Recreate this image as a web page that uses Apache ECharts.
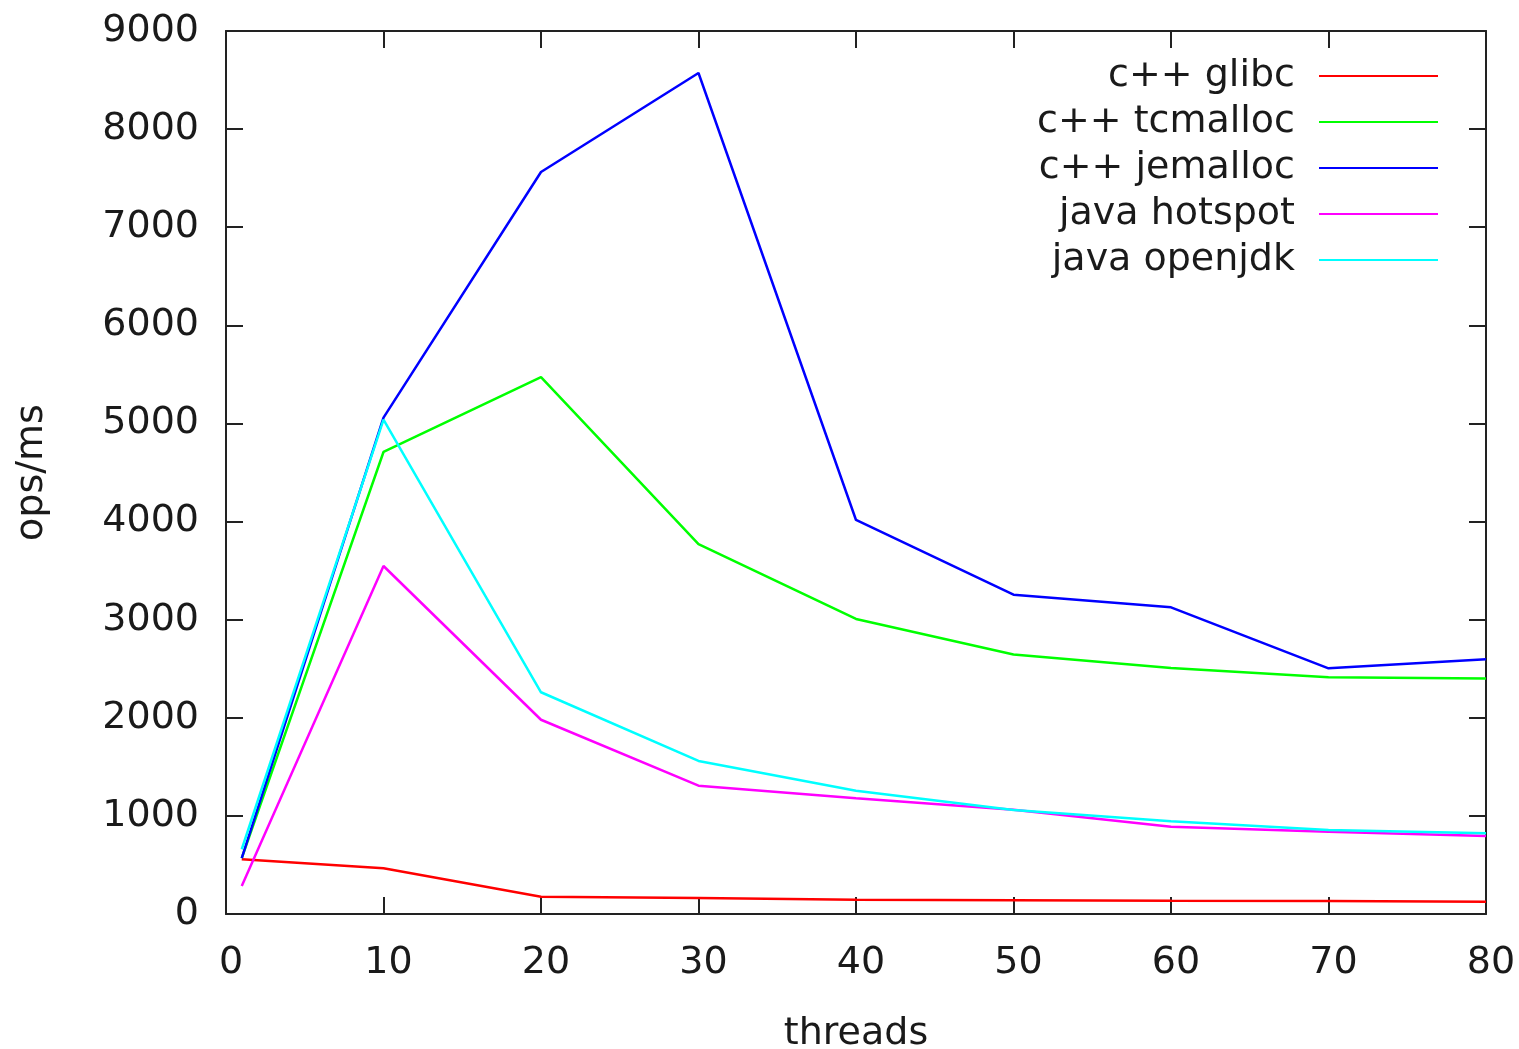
<!DOCTYPE html>
<html>
<head>
<meta charset="utf-8">
<script src="https://cdn.jsdelivr.net/npm/echarts@6/dist/echarts.min.js"></script>
<style>
html,body{margin:0;padding:0;background:#fff;}
#chart{width:1519px;height:1049px;}
</style>
</head>
<body>
<div id="chart"></div>
<script>
const threads = [1, 10, 20, 30, 40, 50, 60, 70, 80];
const glibc    = [557, 466, 176, 163, 145, 140, 135, 133, 125];
const tcmalloc = [570, 4709, 5473, 3771, 3007, 2645, 2507, 2412, 2400];
const jemalloc = [570, 5060, 7563, 8572, 4016, 3255, 3126, 2504, 2597];
const hotspot  = [285, 3547, 1980, 1308, 1180, 1062, 890, 838, 795];
const openjdk  = [660, 5040, 2260, 1560, 1257, 1060, 945, 856, 822];
const seriesNames = ['c++ glibc', 'c++ tcmalloc', 'c++ jemalloc', 'java hotspot', 'java openjdk'];
const seriesData = [glibc, tcmalloc, jemalloc, hotspot, openjdk];
const colors = ['#ff0000', '#00ff00', '#0000ff', '#ff00ff', '#00ffff'];

const FONT = 'DejaVu Sans';
const TXT = '#1a1a1a';
const AX = '#222';

const chart = echarts.init(document.getElementById('chart'));
const axisCommon = {
  axisLine: {show: true, onZero: false, lineStyle: {color: AX, width: 2}},
  axisTick: {show: true, inside: true, length: 17, lineStyle: {color: AX, width: 2}},
  splitLine: {show: false}
};
chart.setOption({
  animation: false,
  backgroundColor: '#fff',
  color: colors,
  grid: {left: 226, right: 33, top: 31, bottom: 135, containLabel: false, outerBoundsMode: 'none'},
  legend: {
    orient: 'vertical',
    align: 'right',
    right: 81,
    top: 56,
    padding: 0,
    itemGap: 6,
    itemWidth: 119,
    itemHeight: 2,
    icon: 'rect',
    data: seriesNames,
    textStyle: {fontFamily: FONT, fontSize: 38, color: TXT, lineHeight: 40, padding: [0, 19, 0, 0]}
  },
  xAxis: [
    Object.assign({
      type: 'value', min: 0, max: 80, interval: 10, position: 'bottom',
      name: 'threads', nameLocation: 'middle', nameGap: 101,
      nameTextStyle: {fontFamily: FONT, fontSize: 38, color: TXT},
      axisLabel: {fontFamily: FONT, fontSize: 38, color: TXT, margin: 30, padding: [0, 0, 0, 10]}
    }, axisCommon),
    Object.assign({
      type: 'value', min: 0, max: 80, interval: 10, position: 'top',
      axisLabel: {show: false}
    }, axisCommon)
  ],
  yAxis: [
    Object.assign({
      type: 'value', min: 0, max: 9000, interval: 1000, position: 'left',
      name: 'ops/ms', nameLocation: 'middle', nameGap: 175,
      nameTextStyle: {fontFamily: FONT, fontSize: 38, color: TXT},
      axisLabel: {fontFamily: FONT, fontSize: 38, color: TXT, margin: 27,
                  formatter: v => String(v)}
    }, axisCommon),
    Object.assign({
      type: 'value', min: 0, max: 9000, interval: 1000, position: 'right',
      axisLabel: {show: false}
    }, axisCommon)
  ],
  series: seriesNames.map((name, i) => ({
    name: name,
    type: 'line',
    symbol: 'none',
    xAxisIndex: 0,
    yAxisIndex: 0,
    lineStyle: {width: 2.5, color: colors[i]},
    itemStyle: {color: colors[i]},
    data: threads.map((t, j) => [t, seriesData[i][j]])
  }))
});
</script>
</body>
</html>
